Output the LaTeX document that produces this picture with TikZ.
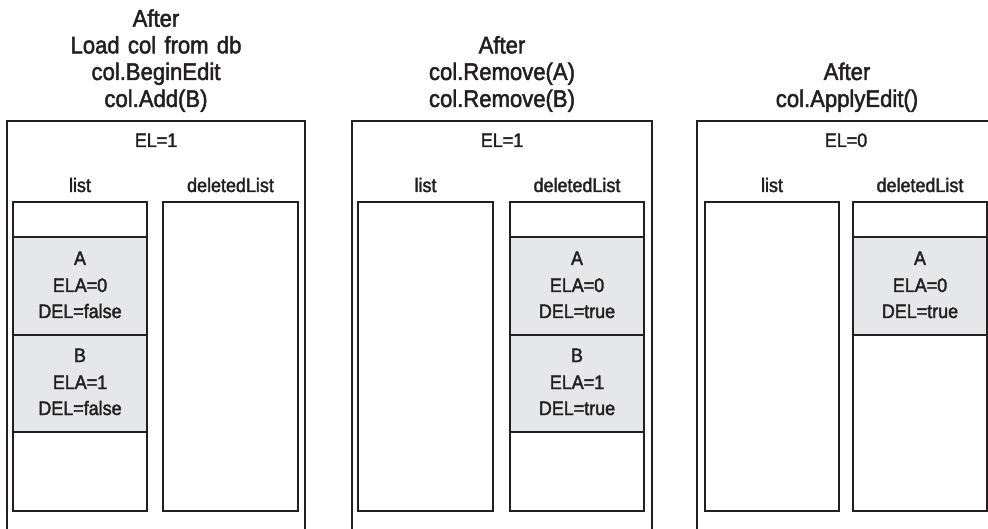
\documentclass[tikz,border=0pt]{standalone}
\usepackage{fontspec}
\setmainfont{Liberation Sans}[FakeStretch=0.92,FakeBold=2,WordSpace=1.35]
\definecolor{ink}{HTML}{231F20}
\definecolor{cellgrey}{HTML}{E6E7E8}
\begin{document}
\begin{tikzpicture}[x=1pt,y=-1pt,
  ttl/.style={font=\fontsize{24}{27}\selectfont, anchor=base, inner sep=0pt, text=ink},
  lbl/.style={font=\fontsize{19.5}{26}\selectfont, anchor=base, inner sep=0pt, text=ink},
  frame/.style={draw=ink, line width=1.8pt},
  cell/.style={draw=ink, fill=cellgrey, line width=1.8pt}]
\useasboundingbox (0,0) rectangle (988,529);
\clip (0,0) rectangle (988,529);
% ---------------- Panel 1 ----------------
\node[ttl] (p1t1) at (156,26.7) {After};
\node[ttl] (p1t2) at (156,53.4) {Load col from db};
\node[ttl] (p1t3) at (156,80) {col.BeginEdit};
\node[ttl] (p1t4) at (156,107) {col.Add(B)};
\draw[frame] (7,121) rectangle (305,560);
\node[lbl] (p1el) at (156,147) {EL=1};
\node[lbl] (p1list) at (80,192) {list};
\node[lbl] (p1del) at (230.5,192) {deletedList};
\draw[frame] (13,202) rectangle (147,511);
\draw[frame] (163,202) rectangle (298,511);
\filldraw[cell] (13,237) rectangle (147,335);
\filldraw[cell] (13,335) rectangle (147,432);
\node[lbl] (p1a1) at (80,265) {A};
\node[lbl] (p1a2) at (80,292) {ELA=0};
\node[lbl] (p1a3) at (80,318) {DEL=false};
\node[lbl] (p1b1) at (80,362) {B};
\node[lbl] (p1b2) at (80,389) {ELA=1};
\node[lbl] (p1b3) at (80,415) {DEL=false};
% ---------------- Panel 2 ----------------
\node[ttl] (p2t1) at (502,53.4) {After};
\node[ttl] (p2t2) at (502,80) {col.Remove(A)};
\node[ttl] (p2t3) at (502,107) {col.Remove(B)};
\draw[frame] (352,121) rectangle (652,560);
\node[lbl] (p2el) at (502,147) {EL=1};
\node[lbl] (p2list) at (425.5,192) {list};
\node[lbl] (p2del) at (577,192) {deletedList};
\draw[frame] (358,202) rectangle (493,511);
\draw[frame] (510,202) rectangle (644,511);
\filldraw[cell] (510,237) rectangle (644,335);
\filldraw[cell] (510,335) rectangle (644,432);
\node[lbl] (p2a1) at (577,265) {A};
\node[lbl] (p2a2) at (577,292) {ELA=0};
\node[lbl] (p2a3) at (577,318) {DEL=true};
\node[lbl] (p2b1) at (577,362) {B};
\node[lbl] (p2b2) at (577,389) {ELA=1};
\node[lbl] (p2b3) at (577,415) {DEL=true};
% ---------------- Panel 3 ----------------
\node[ttl] (p3t1) at (847,80) {After};
\node[ttl] (p3t2) at (847,107) {col.ApplyEdit()};
\draw[frame] (697,121) rectangle (1000,560);
\node[lbl] (p3el) at (846,147) {EL=0};
\node[lbl] (p3list) at (772,192) {list};
\node[lbl] (p3del) at (920,192) {deletedList};
\draw[frame] (705,202) rectangle (839,511);
\draw[frame] (853,202) rectangle (987,511);
\filldraw[cell] (853,237) rectangle (987,335);
\node[lbl] (p3a1) at (920,265) {A};
\node[lbl] (p3a2) at (920,292) {ELA=0};
\node[lbl] (p3a3) at (920,318) {DEL=true};
\end{tikzpicture}
\end{document}
